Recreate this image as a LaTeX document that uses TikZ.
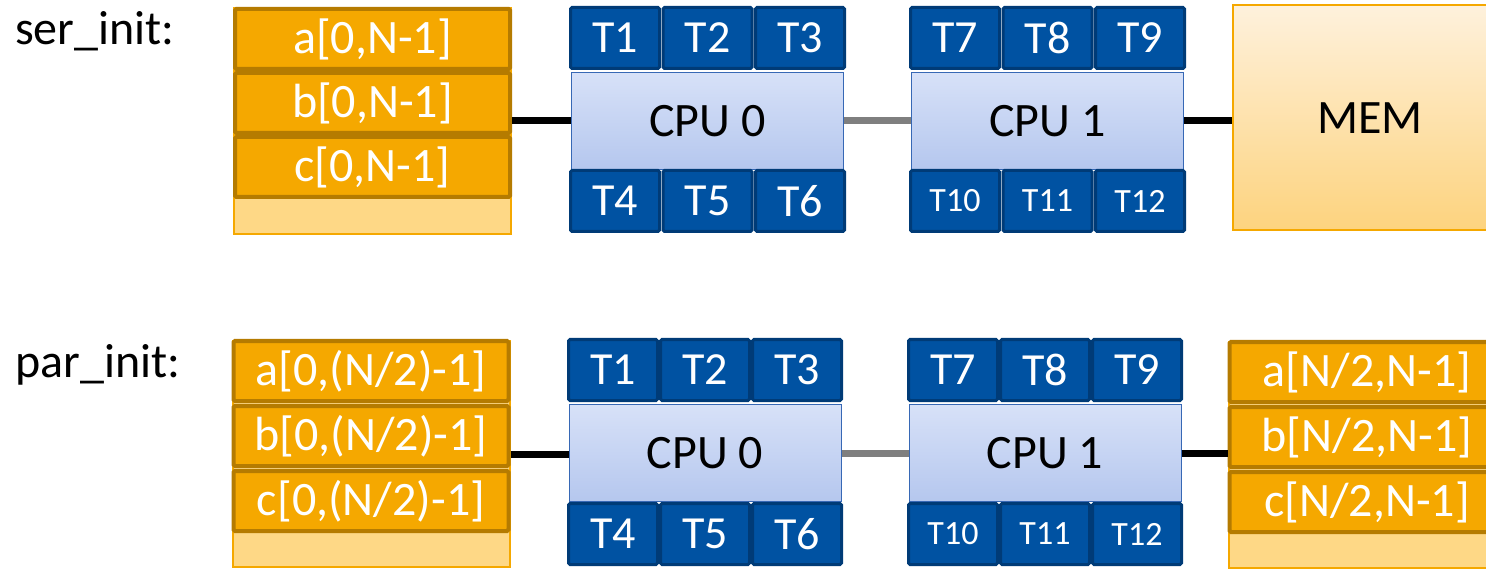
\documentclass[tikz,border=0pt]{standalone}
\usepackage{fontspec}
\setmainfont{Carlito}
\usepackage{tikz}

\definecolor{dataorange}{HTML}{F5A800}
\definecolor{dataedge}{HTML}{B57B00}
\definecolor{datalight}{HTML}{FED886}
\definecolor{tileblue}{HTML}{0052A2}
\definecolor{tileedge}{HTML}{003B77}
\definecolor{cputop}{HTML}{D7E1F8}
\definecolor{cpubottom}{HTML}{B5C7EE}
\definecolor{cpuedge}{HTML}{3768B5}
\definecolor{memtop}{HTML}{FEF1DC}
\definecolor{membottom}{HTML}{FDD37E}
\definecolor{qpigray}{HTML}{7F7F7F}

\newcommand{\bigfont}{\fontsize{48}{56}\selectfont}
\newcommand{\tilefont}{\fontsize{46}{52}\selectfont}
\newcommand{\smalltilefont}{\fontsize{34}{40}\selectfont}

\tikzset{
    datablock/.style={rectangle, draw=dataorange, fill=datalight, line width=2pt,
        minimum width=277pt, minimum height=226pt, inner sep=0pt},
    datarow/.style={rectangle, draw=dataedge, fill=dataorange, line width=4pt, rounded corners=1.5pt,
        minimum width=275pt, minimum height=60pt, inner sep=0pt, text=white, font=\bigfont},
    cpubody/.style={rectangle, draw=cpuedge, top color=cputop, bottom color=cpubottom,
        line width=1pt, minimum width=272pt, minimum height=97pt, inner sep=0pt, font=\bigfont},
    tile/.style={rectangle, draw=tileedge, fill=tileblue, line width=3pt, rounded corners=1.5pt,
        minimum width=89pt, minimum height=61pt, inner sep=0pt, text=white, font=\tilefont},
    smalltile/.style={tile, font=\smalltilefont},
    memblock/.style={rectangle, draw=dataorange, top color=memtop, bottom color=membottom,
        line width=2pt, minimum width=274pt, minimum height=225pt, inner sep=0pt, font=\bigfont},
    rowlabel/.style={anchor=base west, inner sep=0pt, font=\bigfont},
    buslink/.style={line width=7pt, black},
    qpilink/.style={line width=7pt, qpigray}
}

\begin{document}
\begin{tikzpicture}[x=1pt, y=-1pt]
    \clip (0,0) rectangle (1486,569);

    \node[rowlabel]  (serlabel) at (15,45)  {ser\_init:};
    \node[rowlabel]  (parlabel) at (15,377) {par\_init:};

    \node[datablock] (sdata) at (372.5,121) {};
    \node[datarow]   (sa)    at (372.5,39)  {a[0,N-1]};
    \node[datarow]   (sb)    at (372.5,103) {b[0,N-1]};
    \node[datarow]   (sc)    at (372.5,167) {c[0,N-1]};

    \node[cpubody]   (scpu0) at (707.5,121) {CPU 0};
    \node[tile]      (st1)   at (615,38)    {T1};
    \node[tile]      (st2)   at (707.5,38)  {T2};
    \node[tile]      (st3)   at (800,38)    {T3};
    \node[tile]      (st4)   at (615,201)   {T4};
    \node[tile]      (st5)   at (707.5,201) {T5};
    \node[tile]      (st6)   at (800,201)   {T6};

    \node[cpubody]   (scpu1) at (1047.5,121) {CPU 1};
    \node[tile]      (st7)   at (955,38)     {T7};
    \node[tile]      (st8)   at (1047.5,38)  {T8};
    \node[tile]      (st9)   at (1140,38)    {T9};
    \node[smalltile] (st10)  at (955,201)    {T10};
    \node[smalltile] (st11)  at (1047.5,201) {T11};
    \node[smalltile] (st12)  at (1140,201)   {T12};

    \node[memblock]  (mem)   at (1370,118) {MEM};

    \node[datablock] (pdata) at (371,454) {};
    \node[datarow]   (pa)    at (371,371) {a[0,(N/2)-1]};
    \node[datarow]   (pb)    at (371,436) {b[0,(N/2)-1]};
    \node[datarow]   (pc)    at (371,501) {c[0,(N/2)-1]};

    \node[cpubody]   (pcpu0) at (705,453) {CPU 0};
    \node[tile]      (pt1)   at (613,370) {T1};
    \node[tile]      (pt2)   at (705,370) {T2};
    \node[tile]      (pt3)   at (797,370) {T3};
    \node[tile]      (pt4)   at (613,534) {T4};
    \node[tile]      (pt5)   at (705,534) {T5};
    \node[tile]      (pt6)   at (797,534) {T6};

    \node[cpubody]   (pcpu1) at (1045,453) {CPU 1};
    \node[tile]      (pt7)   at (953,370)  {T7};
    \node[tile]      (pt8)   at (1045,370) {T8};
    \node[tile]      (pt9)   at (1137,370) {T9};
    \node[smalltile] (pt10)  at (953,534)  {T10};
    \node[smalltile] (pt11)  at (1045,534) {T11};
    \node[smalltile] (pt12)  at (1137,534) {T12};

    \node[datablock] (rdata) at (1367,455) {};
    \node[datarow]   (ra)    at (1367,372) {a[N/2,N-1]};
    \node[datarow]   (rb)    at (1367,437) {b[N/2,N-1]};
    \node[datarow]   (rc)    at (1367,502) {c[N/2,N-1]};

    \draw[buslink] (sdata.east) -- (sdata.east -| scpu0.west);
    \draw[qpilink] (scpu0.east) -- (scpu1.west);
    \draw[buslink] (scpu1.east) -- (scpu1.east -| mem.west);
    \draw[buslink] (pdata.east) -- (pdata.east -| pcpu0.west);
    \draw[qpilink] (pcpu0.east) -- (pcpu1.west);
    \draw[buslink] (pcpu1.east) -- (pcpu1.east -| rdata.west);
\end{tikzpicture}
\end{document}
